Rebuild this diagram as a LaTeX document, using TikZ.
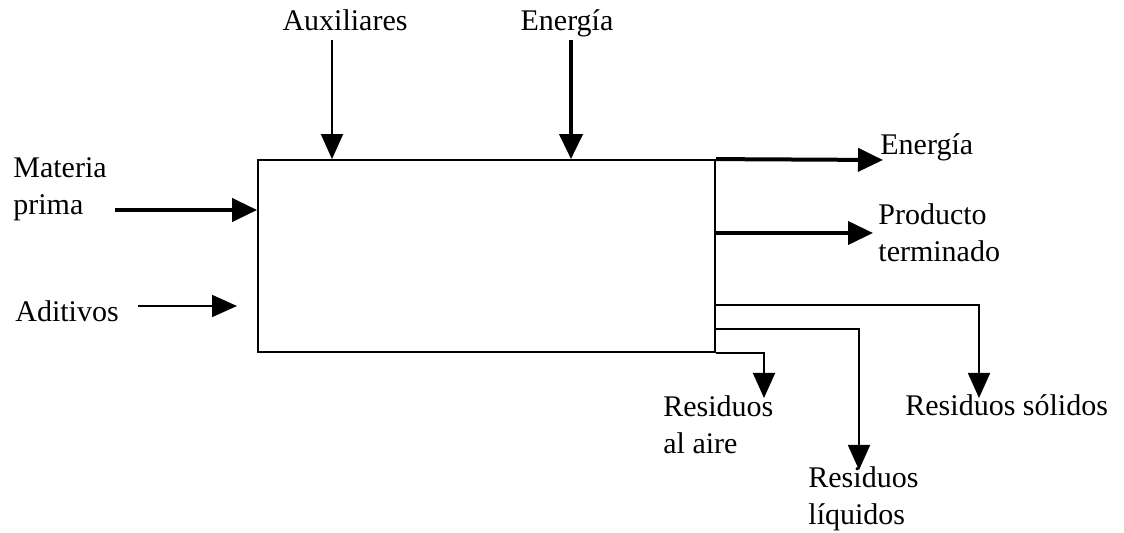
\documentclass[tikz,border=0pt]{standalone}
\usepackage{fontspec}
\setmainfont{Liberation Serif}
\usetikzlibrary{arrows.meta}
\begin{document}
\begin{tikzpicture}[x=0.5pt,y=-0.5pt,
  lbl/.style={font=\fontsize{15}{18.5}\selectfont, align=left, inner sep=0pt, anchor=base west},
  lblc/.style={lbl, anchor=base},
  procbox/.style={draw, line width=0.9pt, minimum width=228.5pt, minimum height=96pt, inner sep=0pt},
  flowthin/.style={line width=0.9pt, -{Triangle[length=12.5pt,width=11pt]}},
  flowthick/.style={line width=2pt, -{Triangle[length=12.5pt,width=11.5pt]}},
  ]
\useasboundingbox (0,0) rectangle (1124,533);

% process block
\node[procbox] (proc) at (486.5,256) {};

% labels (two-line labels are placed by the baseline of their last line)
\node[lblc] (aux) at (345,31) {Auxiliares};
\node[lblc] (enin) at (567,31) {Energía};
\node[lbl] (mp) at (13,215) {Materia\\prima};
\node[lbl] (ad) at (15,322) {Aditivos};
\node[lbl] (enout) at (880,155) {Energía};
\node[lbl] (prod) at (878,262) {Producto\\terminado};
\node[lbl] (raire) at (663,454) {Residuos\\al aire};
\node[lbl] (rliq) at (808,525) {Residuos\\líquidos};
\node[lbl] (rsol) at (905,416) {Residuos sólidos};

% free ends of the connectors
\coordinate (auxs) at (332,40);
\coordinate (ens) at (571,40);
\coordinate (mps) at (115,210);
\coordinate (ads) at (138,306);
\coordinate (adt) at (237,306);
\coordinate (ent) at (883,160);
\coordinate (prt) at (873,233);
\coordinate (ysol) at (0,305);
\coordinate (yliq) at (0,329);
\coordinate (rairt) at (764,398);
\coordinate (rliqt) at (859,470);
\coordinate (rsolt) at (979,398);

% inputs
\draw[flowthin] (auxs) -- (auxs |- proc.north);
\draw[flowthick] (ens) -- (ens |- proc.north);
\draw[flowthick] (mps) -- (mps -| proc.west);
\draw[flowthin] (ads) -- (adt);

% outputs
\draw[flowthick] (proc.north east) -- (ent);
\draw[flowthick] (prt -| proc.east) -- (prt);
\draw[flowthin] (proc.east |- ysol) -| (rsolt);
\draw[flowthin] (proc.east |- yliq) -| (rliqt);
\draw[flowthin] (proc.south east) -| (rairt);
\end{tikzpicture}
\end{document}
